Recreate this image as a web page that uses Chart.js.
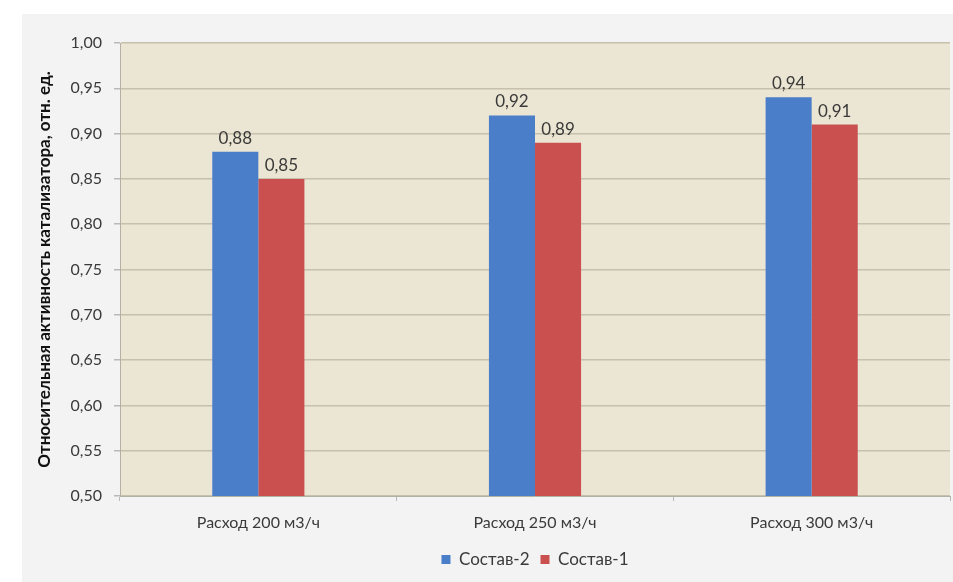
<!DOCTYPE html>
<html lang="ru">
<head>
<meta charset="utf-8">
<script src="https://cdn.jsdelivr.net/npm/chart.js@4"></script>
<style>
  html, body { margin: 0; padding: 0; background: #ffffff; }
  #wrap { width: 953px; height: 582px; position: relative; }
</style>
</head>
<body>
<div id="wrap"><canvas id="chart" width="953" height="582"></canvas></div>
<script>
// Categories and measured values
const categories = ['Расход 200 м3/ч', 'Расход 250 м3/ч', 'Расход 300 м3/ч'];
const seriesNames = ['Состав-2', 'Состав-1'];
const sostav2 = [0.88, 0.92, 0.94];
const sostav1 = [0.85, 0.89, 0.91];
const yTicks = [0.50, 0.55, 0.60, 0.65, 0.70, 0.75, 0.80, 0.85, 0.90, 0.95, 1.00];
const yTitle = 'Относительная активность катализатора, отн. ед.';

const FONT = 'Lato, "Open Sans", sans-serif';
const fmt = v => v.toFixed(2).replace('.', ',');

// Panel behind the chart and the tinted plot area
const backgroundPlugin = {
  id: 'panels',
  beforeDraw(chart) {
    const { ctx, chartArea: a } = chart;
    ctx.save();
    ctx.fillStyle = '#f3f3f3';
    ctx.fillRect(22, 14, chart.width - 22, chart.height - 14);
    ctx.fillStyle = '#ebe6d3';
    ctx.fillRect(a.left, a.top, a.right - a.left, a.bottom - a.top);
    ctx.restore();
  }
};

// Value labels above each bar
const valueLabels = {
  id: 'valueLabels',
  afterDatasetsDraw(chart) {
    const { ctx } = chart;
    ctx.save();
    ctx.font = '17px ' + FONT;
    ctx.fillStyle = '#3a3a3a';
    ctx.textAlign = 'center';
    ctx.textBaseline = 'bottom';
    chart.data.datasets.forEach((ds, i) => {
      chart.getDatasetMeta(i).data.forEach((bar, j) => {
        ctx.fillText(fmt(ds.data[j]), bar.x, bar.y - 5);
      });
    });
    ctx.restore();
  }
};

new Chart(document.getElementById('chart'), {
  type: 'bar',
  data: {
    labels: categories,
    datasets: [
      { label: seriesNames[0], data: sostav2, backgroundColor: '#4a7ec8' },
      { label: seriesNames[1], data: sostav1, backgroundColor: '#c9504f' }
    ]
  },
  options: {
    responsive: false,
    animation: false,
    devicePixelRatio: 1,
    layout: { padding: { left: 0, top: 43, right: 3, bottom: 4 } },
    datasets: { bar: { barPercentage: 1, categoryPercentage: 0.333 } },
    scales: {
      x: {
        offset: true,
        grid: { offset: true, drawOnChartArea: false, drawTicks: true, tickLength: 5, tickColor: '#b9b9b9' },
        border: { display: true, color: '#b3b0a4', width: 1 },
        ticks: { color: '#3a3a3a', font: { family: FONT, size: 16 }, padding: 12 },
        afterFit(s) { s.height = 44; }
      },
      y: {
        min: 0.5,
        max: 1.0,
        afterBuildTicks(s) { s.ticks = yTicks.map(v => ({ value: v })); },
        grid: { color: '#c6c0ac', lineWidth: 1.5, drawTicks: true, tickLength: 6, tickColor: '#b9b9b9' },
        border: { display: true, color: '#b3b0a4', width: 1 },
        ticks: { color: '#3a3a3a', font: { family: FONT, size: 16 }, padding: 12, callback: v => fmt(v) },
        title: { display: true, text: yTitle, color: '#111', font: { family: FONT, size: 17, weight: 'bold' }, padding: { top: 34, bottom: 4 } },
        afterFit(s) { s.width = 120; }
      }
    },
    plugins: {
      legend: {
        position: 'bottom',
        fullSize: false,
        labels: { color: '#3a3a3a', font: { family: FONT, size: 17 }, boxWidth: 9, boxHeight: 9, padding: 11 }
      },
      tooltip: { enabled: false }
    }
  },
  plugins: [backgroundPlugin, valueLabels]
});
</script>
</body>
</html>
